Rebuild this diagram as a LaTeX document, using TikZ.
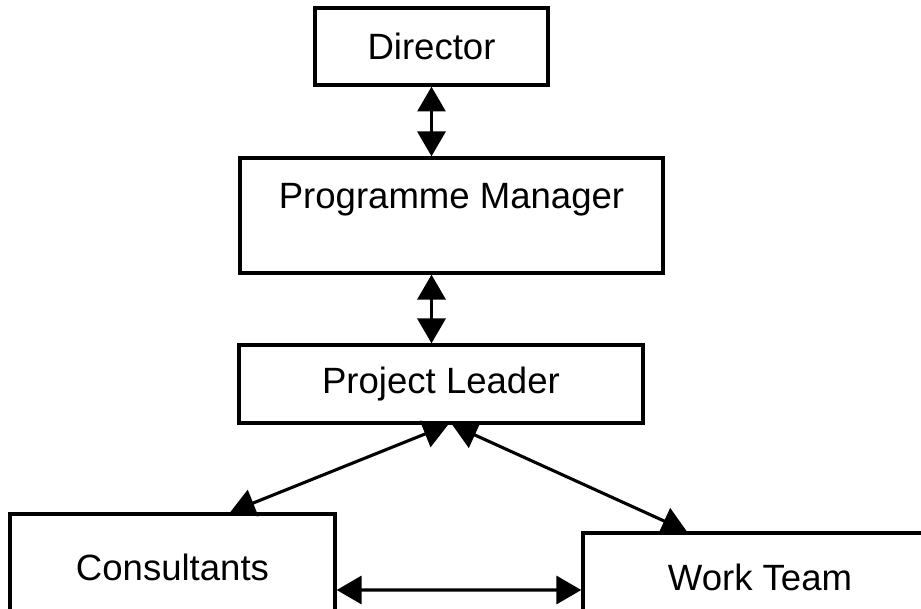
\documentclass[tikz,border=0pt]{standalone}
\usepackage{fontspec}
\setmainfont{Liberation Sans}
\usetikzlibrary{arrows.meta}

\begin{document}
\begin{tikzpicture}[x=0.025cm, y=-0.025cm,
        box/.style={draw, line width=2.4pt, inner sep=0pt, font=\fontsize{26}{30}\selectfont},
        link/.style={{Triangle[length=0.62cm, width=0.7cm]}-{Triangle[length=0.62cm, width=0.7cm]}, line width=2.2pt}]
                \clip (0, 0) rectangle (921, 609);
                \node[box, minimum width=5.825cm, minimum height=1.925cm] (director) at (431.5, 46.5) {Director};
                \node[box, minimum width=10.575cm, minimum height=2.875cm,
                        label={[font=\fontsize{26}{30}\selectfont, yshift=0.39cm]center:Programme Manager}] (manager) at (451.5, 215.5) {};
                \node[box, minimum width=10.1cm, minimum height=1.95cm] (leader) at (441, 384) {Project Leader};
                \node[box, minimum width=8.125cm, minimum height=2.65cm] (consultants) at (172.5, 567) {Consultants};
                \node[box, minimum width=8.85cm, minimum height=2.2cm] (team) at (760, 577) {Work Team};
                \draw[link] (director.south) -- (director.south |- manager.north);
                \draw[link] (manager.south -| director.south) -- (leader.north -| director.south);
                \draw[link] ([xshift=0.18cm]leader.south) -- ([xshift=1.44cm]consultants.north);
                \draw[link] ([xshift=0.28cm]leader.south) -- ([xshift=-1.83cm]team.north);
                \draw[link] ([yshift=-0.575cm]consultants.east) -- ([yshift=-0.325cm]team.west);
        \end{tikzpicture}
\end{document}
